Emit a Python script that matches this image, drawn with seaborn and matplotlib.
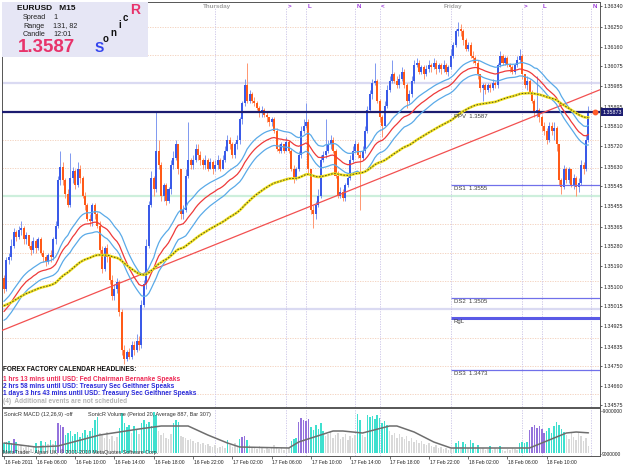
import numpy as np
import pandas as pd
import matplotlib
matplotlib.use('Agg')
import matplotlib.pyplot as plt
import matplotlib.transforms as mtransforms
from matplotlib.patches import Rectangle
import seaborn as sns

# EURUSD M15, 16-18 Feb 2011, one value per bar (open = previous close)
first_open = 1.3514
bar_close = [
    1.3509, 1.3522, 1.3523, 1.3528, 1.3534, 1.3532, 1.3535, 1.3536, 1.3531, 1.3533,
    1.3528, 1.3526, 1.3530, 1.3527, 1.3531, 1.3525, 1.3523, 1.3521, 1.3524, 1.3523,
    1.3531, 1.3537, 1.3557, 1.3563, 1.3557, 1.3551, 1.3546, 1.3558, 1.3561, 1.3555,
    1.3562, 1.3558, 1.3550, 1.3546, 1.3540, 1.3539, 1.3546, 1.3542, 1.3537, 1.3526,
    1.3518, 1.3527, 1.3523, 1.3513, 1.3506, 1.3509, 1.3512, 1.3499, 1.3482, 1.3478,
    1.3481, 1.3479, 1.3484, 1.3482, 1.3486, 1.3484, 1.3502, 1.3511, 1.3528, 1.3546,
    1.3558, 1.3553, 1.3570, 1.3564, 1.3550, 1.3555, 1.3548, 1.3553, 1.3564, 1.3567,
    1.3573, 1.3562, 1.3542, 1.3544, 1.3559, 1.3566, 1.3564, 1.3566, 1.3571, 1.3568,
    1.3566, 1.3564, 1.3566, 1.3562, 1.3565, 1.3562, 1.3564, 1.3566, 1.3562, 1.3566,
    1.3570, 1.3575, 1.3573, 1.3568, 1.3573, 1.3575, 1.3584, 1.3591, 1.3599, 1.3592,
    1.3595, 1.3592, 1.3591, 1.3589, 1.3587, 1.3588, 1.3586, 1.3585, 1.3583, 1.3584,
    1.3579, 1.3571, 1.3570, 1.3573, 1.3570, 1.3574, 1.3570, 1.3562, 1.3558, 1.3562,
    1.3568, 1.3579, 1.3581, 1.3583, 1.3562, 1.3544, 1.3542, 1.3546, 1.3550, 1.3566,
    1.3568, 1.3570, 1.3573, 1.3575, 1.3570, 1.3559, 1.3550, 1.3552, 1.3549, 1.3555,
    1.3558, 1.3566, 1.3570, 1.3573, 1.3568, 1.3567, 1.3570, 1.3579, 1.3588, 1.3595,
    1.3600, 1.3601, 1.3592, 1.3585, 1.3581, 1.3590, 1.3597, 1.3601, 1.3604, 1.3601,
    1.3599, 1.3602, 1.3605, 1.3599, 1.3592, 1.3595, 1.3601, 1.3608, 1.3609, 1.3605,
    1.3607, 1.3604, 1.3606, 1.3608, 1.3607, 1.3609, 1.3606, 1.3608, 1.3606, 1.3608,
    1.3605, 1.3607, 1.3612, 1.3617, 1.3623, 1.3624, 1.3623, 1.3619, 1.3615, 1.3617,
    1.3612, 1.3611, 1.3609, 1.3604, 1.3598, 1.3599, 1.3597, 1.3599, 1.3598, 1.3600,
    1.3599, 1.3608, 1.3612, 1.3609, 1.3611, 1.3608, 1.3607, 1.3605, 1.3608, 1.3610,
    1.3612, 1.3604, 1.3599, 1.3601, 1.3596, 1.3592, 1.3587, 1.3588, 1.3585, 1.3581,
    1.3579, 1.3575, 1.3581, 1.3579, 1.3580, 1.3573, 1.3557, 1.3554, 1.3562, 1.3557,
    1.3562, 1.3555, 1.3558, 1.3554, 1.3556, 1.3564, 1.3562, 1.3575, 1.3587,
]
bar_high = [
    1.3515, 1.3523, 1.3525, 1.3531, 1.3536, 1.3535, 1.3537, 1.3539, 1.3537, 1.3534,
    1.3533, 1.3530, 1.3532, 1.3531, 1.3532, 1.3532, 1.3526, 1.3524, 1.3525, 1.3526,
    1.3532, 1.3539, 1.3559, 1.3570, 1.3565, 1.3558, 1.3553, 1.3569, 1.3563, 1.3562,
    1.3565, 1.3564, 1.3559, 1.3552, 1.3547, 1.3542, 1.3547, 1.3547, 1.3543, 1.3539,
    1.3528, 1.3528, 1.3529, 1.3524, 1.3515, 1.3511, 1.3514, 1.3513, 1.3500, 1.3484,
    1.3482, 1.3483, 1.3486, 1.3486, 1.3489, 1.3488, 1.3504, 1.3513, 1.3531, 1.3548,
    1.3561, 1.3559, 1.3587, 1.3575, 1.3565, 1.3556, 1.3556, 1.3554, 1.3566, 1.3570,
    1.3575, 1.3573, 1.3562, 1.3546, 1.3562, 1.3583, 1.3567, 1.3568, 1.3573, 1.3573,
    1.3570, 1.3567, 1.3568, 1.3567, 1.3567, 1.3566, 1.3566, 1.3568, 1.3567, 1.3568,
    1.3572, 1.3577, 1.3576, 1.3574, 1.3574, 1.3577, 1.3585, 1.3592, 1.3602, 1.3609,
    1.3597, 1.3596, 1.3594, 1.3592, 1.3590, 1.3590, 1.3589, 1.3587, 1.3585, 1.3585,
    1.3585, 1.3580, 1.3573, 1.3574, 1.3573, 1.3576, 1.3575, 1.3571, 1.3564, 1.3563,
    1.3570, 1.3581, 1.3584, 1.3591, 1.3584, 1.3562, 1.3546, 1.3548, 1.3553, 1.3568,
    1.3570, 1.3584, 1.3575, 1.3577, 1.3576, 1.3571, 1.3561, 1.3554, 1.3553, 1.3556,
    1.3560, 1.3568, 1.3572, 1.3575, 1.3574, 1.3570, 1.3572, 1.3581, 1.3590, 1.3597,
    1.3602, 1.3609, 1.3602, 1.3593, 1.3586, 1.3592, 1.3599, 1.3603, 1.3610, 1.3605,
    1.3603, 1.3604, 1.3607, 1.3606, 1.3600, 1.3597, 1.3603, 1.3610, 1.3611, 1.3610,
    1.3608, 1.3608, 1.3608, 1.3610, 1.3609, 1.3611, 1.3610, 1.3609, 1.3609, 1.3610,
    1.3609, 1.3608, 1.3615, 1.3618, 1.3624, 1.3627, 1.3626, 1.3624, 1.3620, 1.3618,
    1.3618, 1.3614, 1.3612, 1.3610, 1.3604, 1.3600, 1.3600, 1.3600, 1.3600, 1.3602,
    1.3601, 1.3609, 1.3614, 1.3613, 1.3612, 1.3612, 1.3609, 1.3608, 1.3609, 1.3612,
    1.3615, 1.3613, 1.3604, 1.3603, 1.3602, 1.3597, 1.3593, 1.3603, 1.3589, 1.3586,
    1.3583, 1.3580, 1.3583, 1.3583, 1.3583, 1.3581, 1.3573, 1.3558, 1.3564, 1.3563,
    1.3563, 1.3562, 1.3560, 1.3559, 1.3558, 1.3566, 1.3565, 1.3577, 1.3590,
]
bar_low = [
    1.3507, 1.3508, 1.3520, 1.3522, 1.3527, 1.3530, 1.3531, 1.3533, 1.3529, 1.3529,
    1.3527, 1.3524, 1.3525, 1.3525, 1.3526, 1.3524, 1.3521, 1.3519, 1.3520, 1.3521,
    1.3522, 1.3529, 1.3536, 1.3555, 1.3555, 1.3549, 1.3545, 1.3545, 1.3556, 1.3553,
    1.3554, 1.3556, 1.3549, 1.3544, 1.3539, 1.3537, 1.3537, 1.3540, 1.3536, 1.3524,
    1.3516, 1.3517, 1.3521, 1.3511, 1.3504, 1.3504, 1.3507, 1.3497, 1.3480, 1.3476,
    1.3477, 1.3478, 1.3478, 1.3480, 1.3481, 1.3482, 1.3483, 1.3501, 1.3509, 1.3527,
    1.3545, 1.3550, 1.3552, 1.3562, 1.3548, 1.3548, 1.3546, 1.3547, 1.3551, 1.3562,
    1.3566, 1.3560, 1.3540, 1.3540, 1.3543, 1.3558, 1.3562, 1.3562, 1.3565, 1.3566,
    1.3564, 1.3562, 1.3562, 1.3561, 1.3562, 1.3560, 1.3561, 1.3562, 1.3561, 1.3562,
    1.3565, 1.3570, 1.3571, 1.3567, 1.3567, 1.3571, 1.3573, 1.3582, 1.3590, 1.3591,
    1.3591, 1.3591, 1.3590, 1.3588, 1.3585, 1.3585, 1.3585, 1.3583, 1.3581, 1.3581,
    1.3578, 1.3570, 1.3569, 1.3569, 1.3569, 1.3570, 1.3569, 1.3561, 1.3556, 1.3557,
    1.3561, 1.3567, 1.3578, 1.3580, 1.3560, 1.3542, 1.3536, 1.3540, 1.3545, 1.3549,
    1.3565, 1.3567, 1.3569, 1.3571, 1.3569, 1.3558, 1.3549, 1.3549, 1.3548, 1.3548,
    1.3554, 1.3557, 1.3565, 1.3569, 1.3567, 1.3544, 1.3566, 1.3569, 1.3578, 1.3587,
    1.3593, 1.3599, 1.3591, 1.3583, 1.3576, 1.3581, 1.3589, 1.3596, 1.3600, 1.3600,
    1.3598, 1.3598, 1.3601, 1.3598, 1.3589, 1.3591, 1.3594, 1.3600, 1.3607, 1.3604,
    1.3604, 1.3602, 1.3603, 1.3605, 1.3605, 1.3606, 1.3604, 1.3605, 1.3604, 1.3605,
    1.3604, 1.3603, 1.3606, 1.3611, 1.3616, 1.3621, 1.3621, 1.3617, 1.3614, 1.3614,
    1.3611, 1.3609, 1.3608, 1.3602, 1.3596, 1.3592, 1.3595, 1.3596, 1.3596, 1.3597,
    1.3598, 1.3598, 1.3607, 1.3608, 1.3608, 1.3607, 1.3605, 1.3604, 1.3604, 1.3607,
    1.3609, 1.3602, 1.3598, 1.3597, 1.3595, 1.3591, 1.3585, 1.3585, 1.3583, 1.3579,
    1.3577, 1.3573, 1.3574, 1.3577, 1.3575, 1.3570, 1.3555, 1.3551, 1.3553, 1.3556,
    1.3556, 1.3554, 1.3553, 1.3550, 1.3552, 1.3555, 1.3560, 1.3561, 1.3574,
]

# tick volume per bar and its SonicR colour class (t=above avg, p=climax, g=below avg)
bar_volume = [
    440, 484, 528, 440, 616, 484, 308, 352, 220, 264, 352, 176, 264,
    440, 308, 528, 352, 484, 396, 572, 396, 528,
    1320, 1232, 1144,
    792, 880, 968, 748, 836, 924, 704, 880, 1012, 792, 968, 1100, 1452, 1584,
    880, 792, 660, 924, 616, 748, 528, 704, 1100, 1760, 1320,
    1144, 1232, 880, 1188, 1056, 836, 1320, 1452, 1276, 1364, 1188, 1804, 1672,
    968, 792, 880, 660, 616, 836,
    1320, 1452, 1364, 748,
    704, 660, 572, 616, 528, 440, 484, 396, 440, 352, 396, 308, 264, 352, 220, 264, 308, 220,
    572, 352, 264, 440, 308,
    616, 704, 748, 572,
    352, 220, 264, 176, 308, 220, 132, 264, 176, 220, 352, 264, 176, 220, 132, 264, 220,
    528, 616, 660,
    1364, 1540, 1452, 1408, 1496,
    1144, 1012, 1232, 1056, 1320, 968,
    748, 836, 924, 660, 792, 880, 616, 704, 836, 572, 748, 660, 792,
    1716, 1452,
    792, 704,
    1672, 1584, 1628, 1496, 1672, 1540, 1320, 1408, 1232,
    968, 792, 880, 660, 836,
    704, 616, 748, 528, 660, 484, 572, 440, 528, 396, 352, 440, 308, 264, 352, 220, 264, 176, 220, 132, 176, 220,
    440, 528, 264, 484, 396, 220, 572, 440, 264, 352,
    176, 220, 132, 176, 308, 132, 220, 176, 308, 132, 88, 176, 132, 220, 176, 132,
    440, 484, 440, 484,
    1012, 1144, 1232, 1100, 1188, 1056, 880,
    968, 1100, 880, 1188, 1364, 1232, 1056, 924,
    792, 616, 880, 704, 572, 924, 748, 528, 660, 307,
]
volume_kind = (
    "ttttpt" "ggggggg" "tgtgtgtgt" "ppp" "tttttttttttttt" "gggggggg" "ttt"
    "ttgttgttttttt" "gggggg" "ttt" "ggggggggggggggggggg" "t" "gggg" "tppt"
    "ggggggggggggggggg" "ttt" "ppppp" "tttttt" "ggggggggggggg" "tt" "gg"
    "ttttttttt" "ggggggggggggggggggggggggggg" "ttgttgttgt" "ggggtgggtggggggg"
    "tttt" "ppppppp" "tttttttt" "gggggggggg"
)
# volume moving average (period 20), read at these bars
avg_bar = [0, 13, 22, 39, 47, 55, 64, 75, 83, 91, 96, 116, 120, 134, 138, 146,
           157, 160, 167, 175, 182, 214, 221, 229, 233, 238]
avg_volume = [440, 264, 308, 792, 924, 1056, 1188, 1188, 792, 440, 264, 220, 484,
              968, 968, 880, 1188, 1188, 924, 484, 220, 220, 528, 880, 924, 887]

# indicator values just before the first visible bar
ema34_close_seed = 1.34984
ema34_high_seed = 1.35028
ema34_low_seed = 1.34944
ema89_close_seed = 1.35014

trend_points = [(0, 1.3491), (238, 1.3595)]
pivot_names = ["PPV  1.3587", "DS1  1.3555", "DS2  1.3505", "RgL", "DS3  1.3473"]
pivot_prices = [1.3587, 1.3555, 1.3505, 1.34961, 1.3473]
quarter_levels = [1.34625, 1.34750, 1.34875, 1.35125, 1.35250, 1.35375,
                  1.35625, 1.35750, 1.35875, 1.36125, 1.36250]

price_ticks = [1.36340, 1.36250, 1.36160, 1.36075, 1.35985, 1.35895, 1.35810,
               1.35720, 1.35630, 1.35545, 1.35455, 1.35365, 1.35280, 1.35190,
               1.35100, 1.35015, 1.34925, 1.34835, 1.34750, 1.34660, 1.34575]
time_tick_bars = [0, 13, 29, 45, 61, 77, 93, 109, 125, 141, 157, 173, 189, 205, 221]
time_tick_labels = ["16 Feb 2011", "16 Feb 06:00", "16 Feb 10:00", "16 Feb 14:00",
                    "16 Feb 18:00", "16 Feb 22:00", "17 Feb 02:00", "17 Feb 06:00",
                    "17 Feb 10:00", "17 Feb 14:00", "17 Feb 18:00", "17 Feb 22:00",
                    "18 Feb 02:00", "18 Feb 06:00", "18 Feb 10:00"]
session_bars = [86, 115, 123, 143, 153, 182, 211, 219, 239]
session_marks = ["Thursday", ">", "L", "N", "<", "Friday", ">", "L", "N"]

news_lines = [
    ("FOREX FACTORY CALENDAR HEADLINES:", "#111111"),
    ("1 hrs 13 mins until USD: Fed Chairman Bernanke Speaks", "#EE2A55"),
    ("2 hrs 58 mins until USD: Treasury Sec Geithner Speaks", "#2A2ADA"),
    ("1 days 3 hrs 43 mins until USD: Treasury Sec Geithner Speaks", "#2A2ADA"),
    ("(4)  Additional events are not scheduled", "#B4B4B4"),
]


def ema(values, seed, period):
    k = 2.0 / (period + 1)
    out, prev = [], seed
    for v in values:
        prev = prev + k * (v - prev)
        out.append(prev)
    return np.array(out)


sns.set_style("white")
plt.rcParams['font.family'] = ['Liberation Sans', 'DejaVu Sans']

W, H = 625, 469
fig = plt.figure(figsize=(W / 100, H / 100), dpi=100)


def fxy(px, py):
    return px / W, 1 - py / H


ax = fig.add_axes([2 / W, 1 - 407 / H, 598 / W, 405 / H])
axv = fig.add_axes([2 / W, 1 - 456 / H, 598 / W, 48 / H])

close = np.array(bar_close)
high = np.array(bar_high)
low = np.array(bar_low)
opens = np.r_[first_open, close[:-1]]
n = len(close)
x = np.arange(n)
df = pd.DataFrame({"bar": x, "open": opens, "high": high, "low": low, "close": close})
df["ema_c"] = ema(close, ema34_close_seed, 34)
df["ema_h"] = ema(high, ema34_high_seed, 34)
df["ema_l"] = ema(low, ema34_low_seed, 34)
df["ema_89"] = ema(close, ema89_close_seed, 89)

xlim = (-0.8, 242.7)
ax.set_xlim(*xlim)
ax.set_ylim(1.34568, 1.363584)

# background levels
for lv in quarter_levels:
    ax.axhline(lv, color="#F2CDB8", lw=0.6, ls=(0, (1.5, 1.5)), zorder=0)
ax.axhline(1.3600, color="#DADAF2", lw=1.6, zorder=0)
ax.axhline(1.3500, color="#DADAF2", lw=1.6, zorder=0)
ax.axhline(1.3550, color="#CDEFDC", lw=1.6, zorder=0)
for b in session_bars:
    for a in (ax, axv):
        a.axvline(b, ymax=0.985 if a is ax else 1, color="#C9C2E6", lw=0.6,
                  ls=(0, (1.5, 1.5)), zorder=0)

# pivots
ax.axhline(pivot_prices[0], color="#1C1C70", lw=1.6, zorder=3)
for name, p in zip(pivot_names, pivot_prices):
    if name != "PPV  1.3587":
        ax.hlines(p, 182, xlim[1], color="#5A5AE6" if name == "RgL" else "#7070EA",
                  lw=2.2 if name == "RgL" else 0.9, zorder=3)
    ax.text(183.2, p - 0.00005, name, fontsize=4.3, color="#404040", va="top", ha="left",
            zorder=6)

# trend line
ax.axline(trend_points[0], trend_points[1], color="#F25050", lw=0.9, zorder=4)

# candles
up = df["close"] >= df["open"]
body_col = np.where(up, "#3A5AE8", "#FF5A18")
wick_col = np.where(up, "#7F98F0", "#FF9670")
ax.vlines(df["bar"], df["low"], df["high"], colors=wick_col, lw=0.7, zorder=2)
body_lo = np.minimum(df["open"], df["close"])
body_h = np.maximum((df["close"] - df["open"]).abs(), 0.00002)
ax.bar(df["bar"], body_h, bottom=body_lo, width=0.82, color=body_col, linewidth=0, zorder=2)

# dragon and trend EMAs
sns.lineplot(data=df, x="bar", y="ema_h", ax=ax, color="#5AAAE8", lw=0.9, zorder=5)
sns.lineplot(data=df, x="bar", y="ema_l", ax=ax, color="#5AAAE8", lw=0.9, zorder=5)
sns.lineplot(data=df, x="bar", y="ema_c", ax=ax, color="#EE3A3A", lw=0.9, zorder=5)
sns.lineplot(data=df, x="bar", y="ema_89", ax=ax, color="#F2E21C", lw=1.9, zorder=5)
sns.lineplot(data=df, x="bar", y="ema_89", ax=ax, color="#4A4A30", lw=0.7,
             linestyle=(0, (1.6, 1.6)), zorder=5)

ax.plot([240.6], [pivot_prices[0]], "o", ms=3.2, color="#FF5A2A", zorder=7, clip_on=False)

ax.set_xlabel("")
ax.set_ylabel("")
ax.set_xticks([])
ax.yaxis.tick_right()
ax.set_yticks(price_ticks)
ax.set_yticklabels([f"{p:.5f}" for p in price_ticks])
ax.tick_params(axis="y", direction="out", length=1.5, width=0.5, labelsize=3.9, pad=0.8,
               colors="#222222", right=True, left=False)

for s in ax.spines.values():
    s.set_color("#555555")
    s.set_linewidth(0.7)

# session labels on top
trans = mtransforms.blended_transform_factory(ax.transData, ax.transAxes)
for b, m in zip(session_bars, session_marks):
    if m in ("Thursday", "Friday"):
        ax.text(b + 0.7, 0.988, m, transform=trans, ha="center", va="center",
                fontsize=4.5, fontweight="bold", color="#A0A0A0")
    else:
        ax.text(b + 0.5, 0.988, m, transform=trans, ha="left", va="center",
                fontsize=4.5, fontweight="bold", color="#9A38D8")

# volume panel
vcols = {"t": "#3FE0CF", "p": "#9472DC", "g": "#D9D9D9"}
axv.bar(x, bar_volume, width=0.62, color=[vcols[k] for k in volume_kind], linewidth=0, zorder=2)
sns.lineplot(x=avg_bar, y=avg_volume, ax=axv, color="#6E6E6E", lw=1.1, zorder=3)
axv.set_xlim(*xlim)
axv.set_ylim(-132, 1980)
axv.set_xlabel("")
axv.set_ylabel("")
axv.yaxis.tick_right()
axv.set_yticks([1848, -44])
axv.set_yticklabels(["-9000000", "9000000"])
axv.tick_params(axis="y", direction="out", length=1, width=0.5, labelsize=3.5, pad=0.5,
                colors="#222222", right=True, left=False)
axv.set_xticks(time_tick_bars)
axv.set_xticklabels([])
axv.tick_params(axis="x", direction="out", length=2.5, width=0.5, colors="#333333", bottom=True)
for s in axv.spines.values():
    s.set_color("#555555")
    s.set_linewidth(0.7)
vtrans = mtransforms.blended_transform_factory(axv.transData, axv.transAxes)
for b, lab in zip(time_tick_bars, time_tick_labels):
    axv.text(b + 0.3, -0.09, lab, transform=vtrans, ha="left", va="top",
             fontsize=3.6, color="#222222")

fig.text(*fxy(4, 414), "SonicR MACD (12,26,9) -off", fontsize=4, color="#333333", va="center")
fig.text(*fxy(88, 414), "SonicR Volume (Period 20, Average 887, Bar 307)", fontsize=4,
         color="#333333", va="center")
fig.text(*fxy(3, 452), "MetaTrader - Alpari UK, \u00a9 2001-2010 MetaQuotes Software Corp.",
         fontsize=3.8, color="#333333", va="center", zorder=10)

# calendar headlines
for (txt, col), yy in zip(news_lines, [369.5, 379, 386.3, 393.5, 401]):
    fig.text(*fxy(3, yy), txt, fontsize=4.7, fontweight="bold", color=col, va="center")

# info box
fig.patches.append(Rectangle(fxy(2, 57), 146 / W, 55 / H, transform=fig.transFigure,
                             facecolor="#E6E6F5", edgecolor="none", zorder=8))
fig.text(*fxy(17, 8), "EURUSD   M15", fontsize=6, fontweight="bold", color="#111111",
         va="center", zorder=9)
for lab, val, yy in [("Spread", "1", 17.5), ("Range", "131, 82", 26), ("Candle", "12:01", 34.5)]:
    fig.text(*fxy(23, yy), lab, fontsize=5.2, color="#222222", va="center", zorder=9)
    fig.text(*fxy(53, yy), val, fontsize=5.2, color="#222222", va="center", zorder=9)
fig.text(*fxy(18, 48), "1.3587", fontsize=13.5, fontweight="bold", color="#E8336B",
         va="center", zorder=9)
for ch, px, py, fs, col in [("S", 95, 48, 10, "#3344EE"), ("o", 103, 39.5, 7, "#111111"),
                            ("n", 110, 32.5, 7, "#111111"), ("i", 118, 25, 7, "#111111"),
                            ("c", 123, 18, 7, "#111111"), ("R", 130, 10, 10, "#E8336B")]:
    fig.text(*fxy(px, py), ch, fontsize=fs, fontweight="bold", color=col, va="center", zorder=9)

# current price box
fig.text(*fxy(612, 112), "1.35873", fontsize=3.9, color="white", ha="center", va="center",
         bbox=dict(boxstyle="square,pad=0.2", fc="#1C1C70", ec="none"), zorder=10)

fig.savefig("out.png", dpi=100)
